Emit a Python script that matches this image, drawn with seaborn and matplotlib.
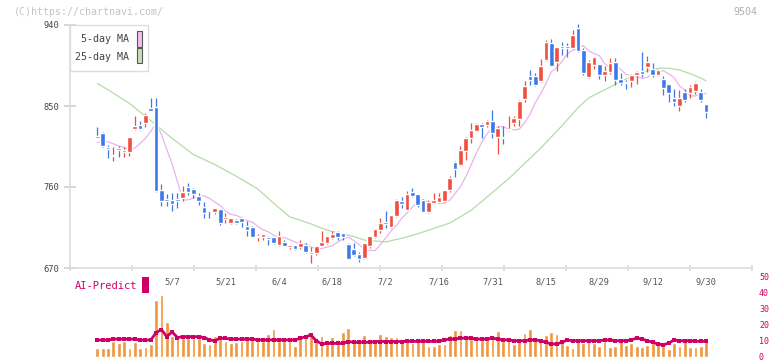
import numpy as np
import pandas as pd
import matplotlib
matplotlib.use("Agg")
import matplotlib.pyplot as plt
import matplotlib.transforms as mtransforms
from matplotlib.patches import Rectangle
import seaborn as sns

sns.set_style("white")
plt.rcParams['font.family'] = ['DejaVu Sans Mono', 'DejaVu Sans']

# daily candles (first one is the carry-over day)
opens = [809, 817, 820, 804, 794, 803, 799, 799, 825, 829, 831, 848, 849, 757, 747, 746, 747, 748, 760, 758,
         750, 738, 734, 732, 736, 724, 720, 723, 725.5, 717, 715, 704, 705, 704.5, 704, 696, 699, 693, 695, 693,
         695, 686, 687, 695, 698, 703, 710, 709, 697, 691, 686, 681.5, 694, 704, 712, 721, 716, 728, 744, 734,
         754.4, 752, 745, 732, 742.6, 743, 744, 757, 788, 784, 800, 814, 822.6, 830, 829, 833, 816, 816, 823, 831,
         835.6, 858, 883, 883, 878, 901, 920, 899, 917, 916, 914, 937, 912, 882.6, 896, 897, 884, 888, 899, 880,
         876.7, 878, 884, 889, 893, 891, 884.4, 880, 874, 859, 850, 866, 864, 867, 865, 852]
highs = [809.5, 827, 821, 807, 804, 806, 805, 816, 839, 833, 842, 859, 859, 763, 752, 753, 753, 761, 765, 759,
         753, 743, 734, 737, 736, 731, 726, 724, 726, 722, 717, 708, 708, 706, 705, 711, 701, 696, 696, 701,
         698, 693, 694.5, 711, 706, 711, 711.5, 709, 698, 698, 688, 698, 705, 713.5, 726, 733, 729, 747, 748.5, 756,
         759, 752, 747, 745.6, 753, 753, 757, 772, 789, 805.5, 816, 831, 831.5, 831.5, 835, 846, 828, 828, 839, 839,
         857, 878, 890, 887, 902, 923, 925, 915, 921, 920, 934, 941, 914, 901, 904.4, 897, 894, 903, 903, 887,
         879, 886, 889, 910, 906, 898, 890.7, 883, 874, 869, 868, 868.5, 873, 877, 869, 852]
lows = [808.5, 814, 805, 792, 789, 793, 793, 794, 823, 823, 827, 844, 755, 739, 739, 733, 737, 744, 751, 748,
        740, 726, 726, 730, 718, 720, 718.6, 719, 716, 706, 704, 700, 701, 696, 697, 695, 694, 691, 690, 691,
        687, 676, 684, 695, 697, 702, 701, 701, 680, 683, 677, 680, 692, 703, 709, 714, 714, 727, 737, 734,
        749, 738, 732, 731.5, 742, 742, 743, 755, 771.5, 783, 790, 809, 822, 814, 827, 815, 797, 808, 822, 828,
        828, 855, 873, 872, 877, 900, 894, 889, 907, 905, 913, 910, 884, 881.5, 891.5, 880, 878, 886, 873, 873,
        869, 871.5, 874, 882.6, 888, 882.6, 883.7, 862, 854, 850, 845, 855, 859, 863, 854, 837]
closes = [809, 815, 806, 802, 796, 801, 801, 816, 828, 824, 840, 845, 756, 744, 744, 741, 745, 754, 755, 752,
          745, 731, 733, 737, 720, 727, 725.5, 720, 721, 712, 704, 706, 708, 702, 698, 705.6, 694, 695, 691.5, 698,
          688, 687, 694, 699, 705.6, 708, 704, 705, 680, 684, 680, 698, 705, 713, 720, 719, 729, 745.6, 741.5, 752.6,
          750, 740, 732, 743, 745.6, 749, 757, 770, 780, 801, 815, 823, 830, 827, 833, 820, 826, 814, 824, 837,
          855, 872.6, 879, 873, 894, 921, 894, 915, 915, 915, 929, 911.5, 887, 899, 904, 884, 889, 898, 879, 876,
          875.6, 884, 888, 885.6, 899, 884, 890, 870, 865, 854, 859, 857, 871, 876, 857, 843]

# volume and AI prediction start on the second day
volume = [5.4, 5.4, 5.4, 10, 8.6, 10, 5.4, 9.2, 5.4, 6.1, 7.9, 35.4, 38.5, 21.5, 12.7, 11.5, 11.5, 11.5, 11.5, 11.5,
          8.6, 7.9, 12.9, 12.9, 10, 8.6, 9.2, 10, 12.7, 11.5, 10, 10, 14.1, 17.3, 10, 10, 10, 6.9, 11.5, 14.1,
          15.6, 10, 12.9, 7.9, 12.1, 7.9, 15.6, 17.9, 11.1, 11.1, 13.6, 10, 11.1, 14.1, 13, 12.1, 12.1, 11.1, 11, 8.6,
          10, 10, 7, 7, 8, 8, 13.8, 16.4, 16.4, 12.7, 11.3, 10.7, 10.7, 10.7, 13.8, 15.8, 9.6, 10.6, 7.9, 11.3,
          14.6, 17.3, 11.3, 9.6, 13.3, 15.2, 14.4, 9.4, 7.5, 5.6, 11.9, 8.6, 10.6, 8.6, 7, 9.6, 5.8, 7, 9.6, 7.5,
          8.6, 7, 6.3, 7.5, 8.3, 7.9, 7, 4.6, 8.3, 6.5, 11.5, 5.8, 5.8, 6.9, 9.6]
ai_predict = [10.4, 10.4, 10.4, 11, 11, 11, 11, 11, 10.4, 10.4, 10.4, 15, 17, 12.5, 15.5, 12, 12.5, 12.5, 12.5, 12.5,
              12, 10.5, 10, 11.5, 11.5, 11, 11, 11, 11, 11, 10.5, 10.5, 10.5, 10.5, 10.5, 10.5, 10.5, 10.5, 11.5, 12.5,
              13.5, 10, 8, 8.3, 8.3, 8.3, 8.3, 9.5, 9, 9, 9, 9, 9.5, 9.5, 9.5, 9.5, 9.5, 9.5, 9.6, 9.6,
              9.6, 9.6, 9.6, 9.6, 9.6, 10.5, 11, 11, 11.6, 11.6, 11.6, 11, 11, 11, 11.6, 11, 10.5, 10.5, 10, 10,
              10, 10.5, 10.5, 10, 9, 8, 7.9, 9, 10.4, 10, 10, 10, 10, 10, 10, 10.4, 10.4, 10, 10, 10,
              10.5, 11.6, 11, 10, 9, 7.9, 7.4, 8.5, 10.4, 10, 10, 10, 9.6, 9.6, 9.6]

# 25-day MA
ma25_idx = [1, 3, 7, 12, 15, 19, 23, 27, 31, 34, 37, 39, 41, 44, 49, 51, 55, 58, 61, 64,
            67, 71, 74, 78, 81, 84, 88, 91, 93, 96, 99, 102, 106, 108, 110, 112, 114, 115]
ma25_val = [875, 868, 853, 829, 814, 796, 785, 772, 758, 742, 727, 723, 719, 712, 705, 701, 699, 703, 708, 714,
            720, 734, 749, 769, 786, 803, 828, 848, 859, 868, 877, 886, 892, 892, 890, 886, 881, 878]

date_idx = [15, 25, 35, 45, 55, 65, 75, 85, 95, 105, 115]
date_labels = ["5/7", "5/21", "6/4", "6/18", "7/2", "7/16", "7/31", "8/15", "8/29", "9/12", "9/30"]
price_ticks = [670, 760, 850, 940]
vol_ticks = [0, 10, 20, 30, 40, 50]

RED, BLUE = "#f04e3e", "#3d78e8"
PINK, GREEN = "#e8b4ec", "#b4dca8"
ORANGE, MAGENTA = "#f0963c", "#cc0066"

df = pd.DataFrame({"open": opens, "high": highs, "low": lows, "close": closes})
df["idx"] = np.arange(len(df))
df["ma5"] = df["close"].rolling(5, min_periods=1).mean().shift(1)
sub = pd.DataFrame({"idx": df["idx"].values[1:], "volume": volume, "ai": ai_predict})

W, H = 772, 361
fig = plt.figure(figsize=(W / 100, H / 100), dpi=100)


def rect(x0, y0, x1, y1):
    return [x0 / W, 1 - y1 / H, (x1 - x0) / W, (y1 - y0) / H]


ax = fig.add_axes(rect(70, 25, 752, 268))
axv = fig.add_axes(rect(70, 276.7, 752, 356.7))
xlim = (-4.12, 123.6)

# moving averages
sns.lineplot(data=df, x="idx", y="ma5", ax=ax, color=PINK, lw=0.9, zorder=1)
sns.lineplot(x=ma25_idx, y=ma25_val, ax=ax, color=GREEN, lw=0.9, zorder=1)

# candles
up = df["close"] >= df["open"]
cols = np.where(up, RED, BLUE)
ax.vlines(df["idx"], df["low"], df["high"], colors=cols, lw=0.9, zorder=2, clip_on=False)
bottom = np.minimum(df["open"], df["close"])
height = np.maximum((df["close"] - df["open"]).abs(), 1.5)
ax.bar(df["idx"], height, bottom=bottom, width=0.88, color=cols, zorder=3, clip_on=False)

ax.set_xlim(xlim)
ax.set_ylim(670, 940)
ax.set_xlabel("")
ax.set_ylabel("")
ax.set_yticks(price_ticks)
ax.set_yticklabels([str(t) for t in price_ticks], fontsize=6.3, color="#444")
ax.tick_params(axis="y", direction="inout", length=8, width=1.2, color="#d0d0d0", pad=4, left=True)
ax.set_xticks(np.linspace(xlim[0], xlim[1], 12))
ax.set_xticklabels([])
ax.tick_params(axis="x", direction="inout", length=5, width=1.2, color="#dcdcdc", bottom=True)
for s in ["top", "right"]:
    ax.spines[s].set_visible(False)
for s in ["left", "bottom"]:
    ax.spines[s].set_color("#dcdcdc")
    ax.spines[s].set_linewidth(1.2)

trans = mtransforms.blended_transform_factory(ax.transData, ax.transAxes)
for i, lab in zip(date_idx, date_labels):
    ax.text(i, -0.058, lab, transform=trans, ha="center", va="center", fontsize=6.2, color="#555")

# volume panel
axv.bar(sub["idx"], sub["volume"], width=0.7, color=ORANGE, zorder=1)
sns.lineplot(data=sub, x="idx", y="ai", ax=axv, color=MAGENTA, lw=2.0, marker="s",
             markersize=3, markeredgewidth=0, zorder=2)
axv.set_xlim(xlim)
axv.set_ylim(0, 50)
axv.set_xlabel("")
axv.set_ylabel("")
axv.set_xticks([])
axv.yaxis.tick_right()
axv.set_yticks(vol_ticks)
axv.set_yticklabels([str(t) for t in vol_ticks], fontsize=6.0, color=MAGENTA)
axv.tick_params(axis="y", length=0, pad=5)
for s in axv.spines.values():
    s.set_visible(False)
axv.patch.set_alpha(0)

# legend box
ft = fig.transFigure


def fx(x):
    return x / W


def fy(y):
    return 1 - y / H


fig.add_artist(Rectangle((fx(70), fy(71)), 78 / W, 46 / H, transform=ft,
                         facecolor="white", edgecolor="#dcdcdc", lw=1.0, zorder=5))
fig.text(fx(129), fy(39.5), "5-day MA", ha="right", va="center", fontsize=7.2, color="#444", zorder=6)
fig.text(fx(129), fy(56.5), "25-day MA", ha="right", va="center", fontsize=7.2, color="#444", zorder=6)
fig.add_artist(Rectangle((fx(136.5), fy(46.5)), 5.5 / W, 15.5 / H, transform=ft,
                         facecolor="#f0c0f0", edgecolor="#555", lw=0.8, zorder=6))
fig.add_artist(Rectangle((fx(136.5), fy(63.2)), 5.5 / W, 14.8 / H, transform=ft,
                         facecolor="#c4e2b4", edgecolor="#555", lw=0.8, zorder=6))

# AI-Predict label
fig.text(fx(75), fy(286), "AI-Predict", ha="left", va="center", fontsize=7.5, color=MAGENTA)
fig.add_artist(Rectangle((fx(142.3), fy(293)), 6.5 / W, 16 / H, transform=ft,
                         facecolor=MAGENTA, edgecolor="none"))

# header texts
fig.text(fx(14), fy(12), "(C)https://chartnavi.com/", ha="left", va="center", fontsize=7.2, color="#c4c4c4")
fig.text(fx(757), fy(12), "9504", ha="right", va="center", fontsize=7.2, color="#b0b0b0")

fig.savefig("out.png", dpi=100)
